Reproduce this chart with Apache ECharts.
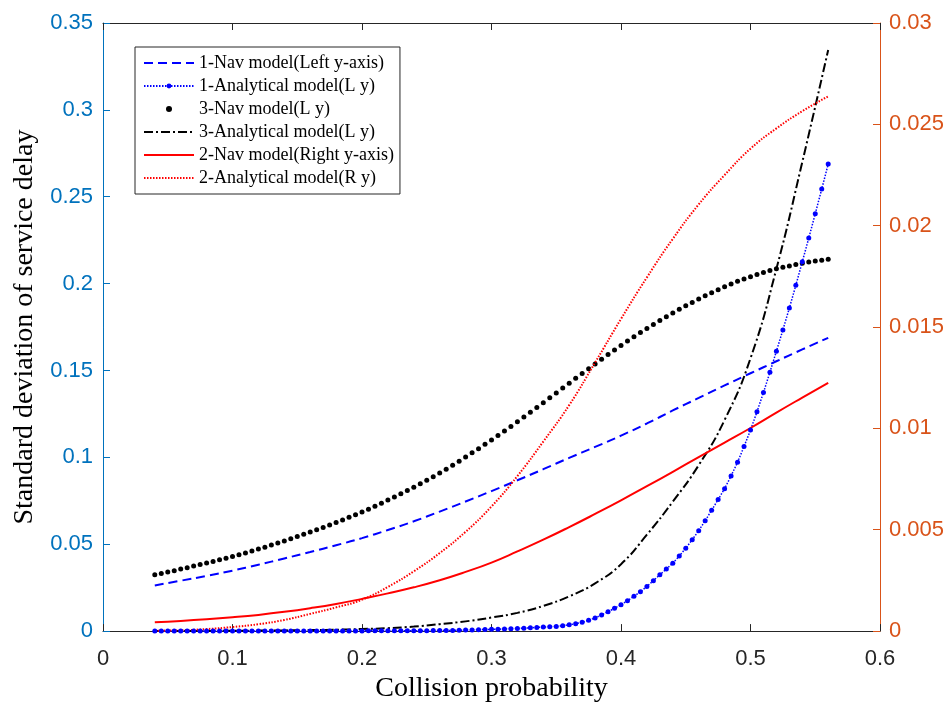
<!DOCTYPE html>
<html>
<head>
<meta charset="utf-8">
<script src="https://cdn.jsdelivr.net/npm/echarts@6/dist/echarts.min.js"></script>
<style>
  html, body { margin: 0; padding: 0; background: #fff; }
  #chart { width: 952px; height: 708px; }
</style>
</head>
<body>
<div id="chart"></div>
<script>
// x values for the densely sampled (marker) curves
const xFine = [
  0.04, 0.045, 0.05, 0.055, 0.06, 0.065, 0.07, 0.075, 0.08, 0.085,
  0.09, 0.095, 0.10, 0.105, 0.11, 0.115, 0.12, 0.125, 0.13, 0.135,
  0.14, 0.145, 0.15, 0.155, 0.16, 0.165, 0.17, 0.175, 0.18, 0.185,
  0.19, 0.195, 0.20, 0.205, 0.21, 0.215, 0.22, 0.225, 0.23, 0.235,
  0.24, 0.245, 0.25, 0.255, 0.26, 0.265, 0.27, 0.275, 0.28, 0.285,
  0.29, 0.295, 0.30, 0.305, 0.31, 0.315, 0.32, 0.325, 0.33, 0.335,
  0.34, 0.345, 0.35, 0.355, 0.36, 0.365, 0.37, 0.375, 0.38, 0.385,
  0.39, 0.395, 0.40, 0.405, 0.41, 0.415, 0.42, 0.425, 0.43, 0.435,
  0.44, 0.445, 0.45, 0.455, 0.46, 0.465, 0.47, 0.475, 0.48, 0.485,
  0.49, 0.495, 0.50, 0.505, 0.51, 0.515, 0.52, 0.525, 0.53, 0.535,
  0.54, 0.545, 0.55, 0.555, 0.56
];
// x values for the plain line curves
const xLine = [
  0.04, 0.06, 0.08, 0.10, 0.12, 0.14, 0.16, 0.18, 0.20, 0.22,
  0.24, 0.26, 0.28, 0.30, 0.32, 0.34, 0.36, 0.38, 0.40, 0.42,
  0.44, 0.46, 0.48, 0.50, 0.52, 0.54, 0.56
];

// left axis
const nav1 = [
  0.0263, 0.0290, 0.0318, 0.0348, 0.0382, 0.0418, 0.0455, 0.0494, 0.0535, 0.0582,
  0.0632, 0.0688, 0.0746, 0.0806, 0.0868, 0.0932, 0.0997, 0.1060, 0.1125, 0.1195,
  0.1270, 0.1342, 0.1414, 0.1484, 0.1553, 0.1621, 0.1688
];
const analytical1 = [
  0, 0, 0, 0, 0, 0, 0, 0, 0, 0,
  0, 0, 0, 0, 0, 0, 0, 0, 0, 0,
  0, 0.0001, 0.0001, 0.0001, 0.0001, 0.0001, 0.0001, 0.0001, 0.0001, 0.0001,
  0.0001, 0.0001, 0.0001, 0.0002, 0.0002, 0.0002, 0.0002, 0.0002, 0.0002, 0.0002,
  0.0002, 0.0002, 0.0002, 0.0003, 0.0003, 0.0004, 0.0004, 0.0005, 0.0006, 0.0007,
  0.0008, 0.0009, 0.0010, 0.0011, 0.0012, 0.0014, 0.0015, 0.0017, 0.0019, 0.0021,
  0.0023, 0.0025, 0.0027, 0.0031, 0.0036, 0.0043, 0.0051, 0.0062, 0.0076, 0.0093,
  0.0112, 0.0131, 0.0152, 0.0175, 0.0200, 0.0227, 0.0257, 0.0290, 0.0324, 0.0357,
  0.0391, 0.0432, 0.0477, 0.0526, 0.0578, 0.0635, 0.0696, 0.0757, 0.0820, 0.0893,
  0.0972, 0.1062, 0.1157, 0.1262, 0.1373, 0.1490, 0.1611, 0.1733, 0.1859, 0.1990,
  0.2126, 0.2262, 0.2402, 0.2544, 0.2688
];
const nav3 = [
  0.0324, 0.0332, 0.0340, 0.0348, 0.0357, 0.0365, 0.0374, 0.0383, 0.0392, 0.0401,
  0.0410, 0.0419, 0.0429, 0.0439, 0.0450, 0.0461, 0.0472, 0.0483, 0.0495, 0.0507,
  0.0519, 0.0531, 0.0544, 0.0557, 0.0570, 0.0583, 0.0597, 0.0611, 0.0625, 0.0640,
  0.0655, 0.0670, 0.0686, 0.0702, 0.0719, 0.0736, 0.0754, 0.0772, 0.0790, 0.0809,
  0.0828, 0.0848, 0.0868, 0.0889, 0.0910, 0.0932, 0.0954, 0.0977, 0.1002, 0.1026,
  0.1050, 0.1075, 0.1100, 0.1126, 0.1152, 0.1178, 0.1205, 0.1232, 0.1260, 0.1287,
  0.1315, 0.1343, 0.1371, 0.1399, 0.1427, 0.1455, 0.1483, 0.1510, 0.1538, 0.1565,
  0.1592, 0.1618, 0.1644, 0.1669, 0.1694, 0.1718, 0.1742, 0.1765, 0.1788, 0.1810,
  0.1831, 0.1852, 0.1872, 0.1892, 0.1911, 0.1930, 0.1948, 0.1965, 0.1982, 0.1998,
  0.2013, 0.2027, 0.2040, 0.2052, 0.2064, 0.2075, 0.2085, 0.2094, 0.2102, 0.2110,
  0.2117, 0.2124, 0.2130, 0.2135, 0.2140
];
const analytical3 = [
  0.0000, 0.0001, 0.0001, 0.0002, 0.0003, 0.0004, 0.0006, 0.0008, 0.0012, 0.0017,
  0.0026, 0.0040, 0.0056, 0.0078, 0.0105, 0.0145, 0.0200, 0.0275, 0.0385, 0.0555,
  0.0745, 0.0955, 0.1215, 0.1570, 0.2085, 0.2700, 0.3345
];

// right axis
const nav2 = [
  0.00044, 0.00050, 0.00058, 0.00068, 0.00080, 0.00095, 0.00113, 0.00134, 0.00159, 0.00186,
  0.00216, 0.00251, 0.00292, 0.00338, 0.00393, 0.00451, 0.00513, 0.00578, 0.00645, 0.00715,
  0.00786, 0.00858, 0.00930, 0.01002, 0.01078, 0.01152, 0.01225
];
const analytical2 = [
  0.00002, 0.00004, 0.00010, 0.00020, 0.00034, 0.00055, 0.00085, 0.00117, 0.00155, 0.00218,
  0.00295, 0.00385, 0.00490, 0.00615, 0.00765, 0.00935, 0.01115, 0.01325, 0.01540, 0.01745,
  0.01935, 0.02105, 0.02250, 0.02380, 0.02480, 0.02565, 0.02638
];

const leftTicks = { min: 0, max: 0.35, interval: 0.05 };
const rightTicks = { min: 0, max: 0.03, interval: 0.005 };
const xTicks = { min: 0, max: 0.6, interval: 0.1 };

const names = [
  '1-Nav model(Left y-axis)',
  '1-Analytical model(L y)',
  '3-Nav model(L y)',
  '3-Analytical model(L y)',
  '2-Nav model(Right y-axis)',
  '2-Analytical model(R y)'
];

const pairs = (xs, ys) => xs.map((x, i) => [x, ys[i]]);

const axisDark = '#262626';
const leftColor = '#0072BD';
const rightColor = '#D95319';
const sans = '"Liberation Sans", Arial, sans-serif';
const serif = '"Liberation Serif", "Times New Roman", serif';

// only the marker series keep a symbol in the legend icon
const legendData = names.map((name, i) =>
  (i === 1 || i === 2) ? { name } : { name, itemStyle: { opacity: 0 } }
);

const chart = echarts.init(document.getElementById('chart'));

chart.setOption({
  animation: false,
  backgroundColor: '#fff',
  grid: { left: 103, right: 72, top: 23, bottom: 74, containLabel: false },
  legend: {
    data: legendData,
    orient: 'vertical',
    left: 135,
    top: 47,
    padding: [7, 6, 7, 8],
    itemGap: 5,
    itemWidth: 50,
    itemHeight: 6,
    backgroundColor: '#fff',
    borderColor: '#262626',
    borderWidth: 1,
    borderRadius: 0,
    textStyle: { fontFamily: serif, fontSize: 18, color: '#000' }
  },
  xAxis: [
    {
      type: 'value',
      position: 'bottom',
      ...xTicks,
      name: 'Collision probability',
      nameLocation: 'middle',
      nameGap: 42,
      nameTextStyle: { fontFamily: serif, fontSize: 28, color: '#000' },
      axisLine: { onZero: false, lineStyle: { color: axisDark, width: 1 } },
      axisTick: { inside: true, length: 7, lineStyle: { color: axisDark } },
      axisLabel: { fontFamily: sans, fontSize: 22, color: axisDark, margin: 17 },
      splitLine: { show: false }
    },
    {
      type: 'value',
      position: 'top',
      ...xTicks,
      axisLine: { onZero: false, lineStyle: { color: axisDark, width: 1 } },
      axisTick: { inside: true, length: 7, lineStyle: { color: axisDark } },
      axisLabel: { show: false },
      splitLine: { show: false }
    }
  ],
  yAxis: [
    {
      type: 'value',
      position: 'left',
      ...leftTicks,
      name: 'Standard deviation of service delay',
      nameLocation: 'middle',
      nameGap: 64,
      nameTextStyle: { fontFamily: serif, fontSize: 28, color: '#000' },
      axisLine: { show: true, onZero: false, lineStyle: { color: leftColor, width: 1 } },
      axisTick: { show: true, inside: true, length: 7, lineStyle: { color: leftColor } },
      axisLabel: { fontFamily: sans, fontSize: 22, color: leftColor, margin: 10 },
      splitLine: { show: false }
    },
    {
      type: 'value',
      position: 'right',
      ...rightTicks,
      axisLine: { show: true, onZero: false, lineStyle: { color: rightColor, width: 1 } },
      axisTick: { show: true, inside: true, length: 7, lineStyle: { color: rightColor } },
      axisLabel: { fontFamily: sans, fontSize: 22, color: rightColor, margin: 9 },
      splitLine: { show: false }
    }
  ],
  series: [
    {
      name: names[0],
      type: 'line',
      yAxisIndex: 0,
      data: pairs(xLine, nav1),
      smooth: true,
      symbol: 'none',
      color: '#0000FF',
      lineStyle: { color: '#0000FF', width: 2, type: [9, 5] }
    },
    {
      name: names[1],
      type: 'line',
      yAxisIndex: 0,
      data: pairs(xFine, analytical1),
      symbol: 'circle',
      symbolSize: 5,
      showAllSymbol: true,
      color: '#0000FF',
      itemStyle: { color: '#0000FF' },
      lineStyle: { color: '#0000FF', width: 1.5, type: [1.5, 1.5] },
      z: 3
    },
    {
      name: names[2],
      type: 'scatter',
      yAxisIndex: 0,
      data: pairs(xFine, nav3),
      symbol: 'circle',
      symbolSize: 5,
      color: '#000',
      itemStyle: { color: '#000', opacity: 1 }
    },
    {
      name: names[3],
      type: 'line',
      yAxisIndex: 0,
      data: pairs(xLine, analytical3),
      smooth: true,
      symbol: 'none',
      color: '#000',
      lineStyle: { color: '#000', width: 2, type: [9, 3, 2, 3] }
    },
    {
      name: names[4],
      type: 'line',
      yAxisIndex: 1,
      data: pairs(xLine, nav2),
      smooth: true,
      symbol: 'none',
      color: '#FF0000',
      lineStyle: { color: '#FF0000', width: 2 }
    },
    {
      name: names[5],
      type: 'line',
      yAxisIndex: 1,
      data: pairs(xLine, analytical2),
      smooth: true,
      symbol: 'none',
      color: '#FF0000',
      lineStyle: { color: '#FF0000', width: 2, type: [1.5, 1.5] }
    }
  ]
});
</script>
</body>
</html>
